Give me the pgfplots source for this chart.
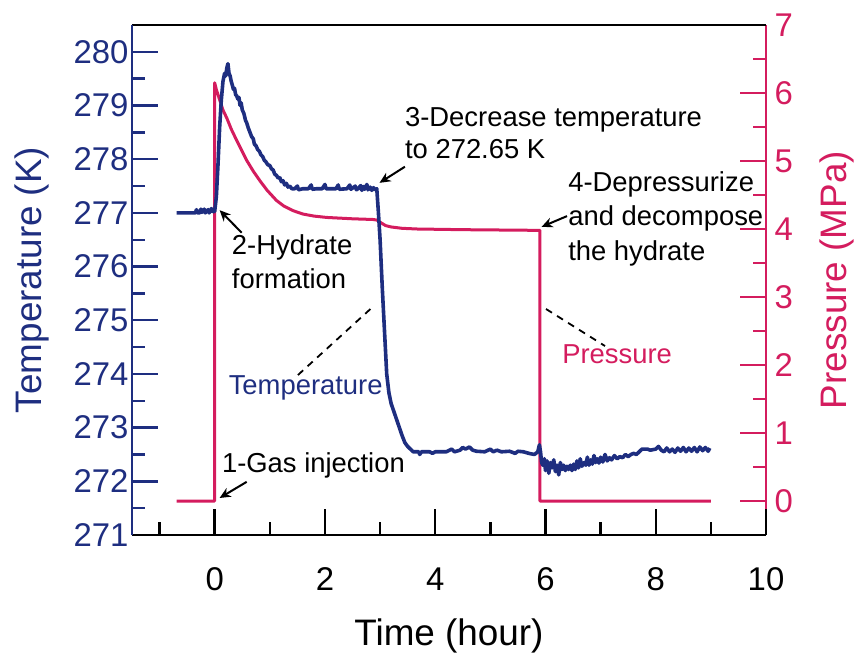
\documentclass[border=0pt]{standalone}
\usepackage{fontspec}
\setmainfont{Liberation Sans}
\usepackage{pgfplots}
\pgfplotsset{compat=1.18}
\usetikzlibrary{arrows.meta}
\definecolor{tnavy}{RGB}{30,46,128}
\definecolor{pcrim}{RGB}{212,28,94}

\pgfplotstableread{
x y
-0.69 277.0
-0.35 277.0
-0.33 277.06
-0.31 277.0
-0.27 277.0
-0.25 277.07
-0.23 277.01
-0.19 277.07
-0.17 277.0
-0.12 277.06
-0.10 277.0
-0.06 277.08
-0.03 277.02
0.0 277.03
0.03 277.3
0.06 277.9
0.09 278.6
0.12 279.1
0.15 279.45
0.18 279.6
0.20 279.55
0.22 279.7
0.24 279.78
0.26 279.6
0.28 279.55
0.30 279.45
0.32 279.38
0.34 279.3
0.36 279.32
0.38 279.2
0.40 279.18
0.42 279.12
0.44 279.15
0.46 279.0
0.48 279.05
0.50 278.92
0.53 278.85
0.56 278.72
0.58 278.68
0.61 278.58
0.64 278.5
0.67 278.42
0.70 278.38
0.72 278.28
0.75 278.25
0.78 278.18
0.81 278.15
0.84 278.08
0.87 278.05
0.90 277.98
0.93 277.95
0.96 277.9
1.00 277.88
1.03 277.82
1.06 277.8
1.09 277.72
1.12 277.7
1.15 277.65
1.18 277.66
1.21 277.58
1.24 277.6
1.27 277.52
1.30 277.55
1.33 277.48
1.36 277.5
1.40 277.45
1.45 277.45
1.50 277.50
1.52 277.43
1.60 277.45
1.70 277.45
1.75 277.52
1.77 277.44
1.85 277.45
1.95 277.45
2.00 277.53
2.02 277.45
2.20 277.45
2.24 277.52
2.26 277.44
2.40 277.45
2.45 277.52
2.47 277.44
2.55 277.50
2.57 277.43
2.60 277.45
2.65 277.51
2.67 277.42
2.70 277.49
2.72 277.44
2.76 277.53
2.78 277.43
2.82 277.48
2.85 277.42
2.88 277.47
2.91 277.43
2.94 277.45
2.97 277.0
3.00 276.5
3.04 275.6
3.08 274.8
3.12 274.0
3.16 273.65
3.20 273.45
3.25 273.3
3.30 273.15
3.35 273.0
3.40 272.85
3.45 272.72
3.50 272.65
3.55 272.6
3.60 272.55
3.70 272.55
3.72 272.5
3.75 272.55
3.90 272.55
3.95 272.52
4.00 272.55
4.20 272.55
4.30 272.6
4.35 272.55
4.45 272.58
4.50 272.63
4.55 272.6
4.62 272.64
4.68 272.58
4.75 272.56
4.90 272.55
5.00 272.6
5.05 272.55
5.12 272.58
5.20 272.55
5.35 272.56
5.45 272.52
5.50 272.56
5.60 272.55
5.70 272.52
5.80 272.5
5.86 272.55
5.89 272.68
5.91 272.55
5.93 272.35
5.95 272.3
5.98 272.42
6.00 272.2
6.03 272.38
6.06 272.15
6.09 272.35
6.12 272.25
6.15 272.4
6.18 272.18
6.21 272.3
6.24 272.12
6.27 272.35
6.30 272.22
6.33 272.3
6.36 272.2
6.39 272.28
6.42 272.22
6.45 272.3
6.48 272.2
6.51 272.32
6.54 272.22
6.57 272.38
6.60 272.25
6.63 272.42
6.66 272.28
6.70 272.35
6.73 272.3
6.76 272.45
6.79 272.3
6.82 272.4
6.85 272.32
6.88 272.48
6.91 272.35
6.94 272.42
6.97 272.34
7.00 272.45
7.04 272.36
7.08 272.5
7.12 272.38
7.16 272.44
7.20 272.4
7.25 272.48
7.30 272.42
7.35 272.46
7.40 272.44
7.45 272.5
7.50 272.46
7.55 272.5
7.60 272.52
7.65 272.5
7.70 272.55
7.75 272.6
7.85 272.6
7.90 272.58
8.00 272.6
8.05 272.65
8.10 272.58
8.15 272.55
8.20 272.62
8.25 272.55
8.30 272.6
8.35 272.54
8.40 272.62
8.45 272.56
8.50 272.63
8.55 272.55
8.60 272.62
8.65 272.56
8.70 272.63
8.75 272.55
8.80 272.64
8.85 272.57
8.90 272.63
8.95 272.56
8.98 272.62
}\temptable

\pgfplotstableread{
x y
-0.69 0
0.0 0
0.0 6.15
0.03 6.05
0.09 5.9
0.15 5.75
0.22 5.63
0.30 5.47
0.40 5.3
0.50 5.14
0.58 5.01
0.70 4.85
0.82 4.71
0.95 4.57
1.12 4.42
1.25 4.34
1.42 4.27
1.60 4.22
1.80 4.19
2.03 4.17
2.50 4.15
2.87 4.14
2.95 4.13
3.00 4.1
3.10 4.05
3.20 4.03
3.40 4.01
3.67 4.0
4.50 3.99
5.90 3.98
5.90 0
9.00 0
}\prestable

\begin{document}
\begin{tikzpicture}
\path[use as bounding box] (-132bp,-120bp) rectangle (729bp,535bp);
\pgfplotsset{common/.style={scale only axis, width=634bp, height=510bp,
  xmin=-1.5, xmax=10, at={(0,0)}, anchor=south west,
  tick align=inside, major tick length=26bp, minor tick length=13bp,
  /pgf/number format/assume math mode=true,
  tick label style={font=\fontsize{33}{39}\selectfont},
  label style={font=\fontsize{37}{44}\selectfont},
  axis line style={line width=2.6bp}}}
% pressure axis (right)
\begin{axis}[common, ymin=-0.5, ymax=7, axis y line*=right, axis x line=none,
  ytick={0,1,...,7}, minor ytick={0.5,1.5,...,6.5},
  y axis line style={draw=pcrim},
  ytick style={draw=pcrim, line width=2.4bp},
  yticklabel style={text=pcrim, xshift=5bp},
  ylabel={Pressure (MPa)},
  ylabel style={text=pcrim, at={(axis description cs:1.112,0.5)}, anchor=center}]
\addplot[pcrim, line width=3bp, line join=round] table[x=x,y=y] {\prestable};
\end{axis}
% temperature axis (left)
\begin{axis}[common, ymin=271, ymax=280.5, axis y line*=left,
  xtick={0,2,...,10}, minor xtick={-1,1,...,9}, xtick pos=bottom,
  ytick={271,...,280}, minor ytick={271.5,272.5,...,279.5},
  y axis line style={draw=tnavy}, x axis line style={draw=black},
  ytick style={draw=tnavy, line width=2.4bp},
  xtick style={draw=black, line width=2.4bp},
  yticklabel style={text=tnavy},
  xticklabel style={yshift=-29bp},
  ylabel={Temperature (K)}, xlabel={Time (hour)},
  ylabel style={text=tnavy, at={(axis description cs:-0.158,0.5)}, anchor=center},
  xlabel style={at={(axis description cs:0.5,-0.197)}, anchor=center}]
\addplot[tnavy, line width=3.6bp, line join=round] table[x=x,y=y] {\temptable};
\begin{scope}[font=\fontsize{27.5}{33}\selectfont]
\node[anchor=base west, inner sep=0] at (axis cs:0.13,272.17) {1-Gas injection};
\node[anchor=base west, inner sep=0] at (axis cs:0.31,276.22) {2-Hydrate};
\node[anchor=base west, inner sep=0] at (axis cs:0.31,275.59) {formation};
\node[anchor=base west, inner sep=0] at (axis cs:3.45,278.60) {3-Decrease temperature};
\node[anchor=base west, inner sep=0] at (axis cs:3.45,278.02) {to 272.65 K};
\node[anchor=base west, inner sep=0] at (axis cs:6.41,277.39) {4-Depressurize};
\node[anchor=base west, inner sep=0] at (axis cs:6.41,276.76) {and decompose};
\node[anchor=base west, inner sep=0] at (axis cs:6.41,276.12) {the hydrate};
\node[anchor=base, inner sep=0, text=tnavy] at (axis cs:1.65,273.61) {Temperature};
\node[anchor=base, inner sep=0, text=pcrim] at (axis cs:7.30,274.2) {Pressure};
\end{scope}
\begin{scope}[line width=2bp, -{Stealth[length=11bp,width=10bp]}]
\draw (axis cs:0.58,271.99) -- (axis cs:0.09,271.69);
\draw (axis cs:0.49,276.63) -- (axis cs:0.09,277.05);
\draw (axis cs:3.45,277.86) -- (axis cs:2.99,277.56);
\draw (axis cs:6.39,276.94) -- (axis cs:5.93,276.74);
\end{scope}
\draw[line width=1.8bp, dash pattern=on 7bp off 6bp] (axis cs:1.51,273.98) -- (axis cs:2.90,275.28);
\draw[line width=1.8bp, dash pattern=on 7bp off 6bp] (axis cs:6.01,275.21) -- (axis cs:7.08,274.52);
\end{axis}
\end{tikzpicture}
\end{document}
